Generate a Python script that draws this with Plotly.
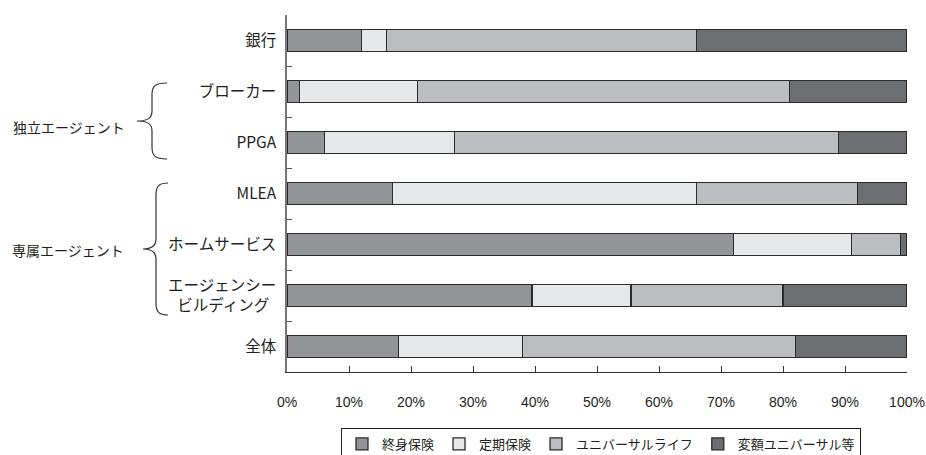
import plotly.graph_objects as go

categories = ["銀行", "ブローカー", "PPGA", "MLEA", "ホームサービス",
              "エージェンシー<br>ビルディング&nbsp;&nbsp;", "全体"]
series_names = ["終身保険", "定期保険", "ユニバーサルライフ", "変額ユニバーサル等"]
whole_life = [12, 2, 6, 17, 72, 39.5, 18]
term_life = [4, 19, 21, 49, 19, 16, 20]
universal_life = [50, 60, 62, 26, 8, 24.5, 44]
variable_ul = [34, 19, 11, 8, 1, 20, 18]
x_ticks = [0, 10, 20, 30, 40, 50, 60, 70, 80, 90, 100]
x_tick_labels = [f"{v}%" for v in x_ticks]

colors = ["#939497", "#e6e7e8", "#bcbdc0", "#6d6e71"]
series = [whole_life, term_life, universal_life, variable_ul]

W, H = 926, 455
L, R, T, B = 287, 907, 15, 372
JP = "Noto Sans CJK JP, Noto Sans, sans-serif"
TXT = "#231f20"

fig = go.Figure()
for name, vals, col in zip(series_names, series, colors):
    fig.add_trace(go.Bar(
        y=categories, x=vals, name=name, orientation="h",
        marker=dict(color=col, line=dict(color="#2b2b2b", width=1.3)),
    ))


def px2paper(px, py):
    return (px - L) / (R - L), (B - py) / (B - T)


def brace(xtip, xv, xend, ytop, ybot, ytip):
    pts = [
        ("M", [(xend, ytop)]),
        ("C", [(xv + 3, ytop), (xv, ytop + 3), (xv, ytop + 12)]),
        ("L", [(xv, ytip - 10)]),
        ("C", [(xv, ytip - 3), (xv - 4, ytip), (xtip, ytip)]),
        ("C", [(xv - 4, ytip), (xv, ytip + 3), (xv, ytip + 10)]),
        ("L", [(xv, ybot - 12)]),
        ("C", [(xv, ybot - 3), (xv + 3, ybot), (xend, ybot)]),
    ]
    s = ""
    for cmd, plist in pts:
        s += cmd + " " + " ".join(
            "{:.5f},{:.5f}".format(*px2paper(a, b)) for a, b in plist) + " "
    return s.strip()


shapes = [
    dict(type="path", xref="paper", yref="paper",
         path=brace(137, 152, 167, 83, 159, 121),
         line=dict(color="#333333", width=1.2)),
    dict(type="path", xref="paper", yref="paper",
         path=brace(143, 156, 168, 183, 315, 249),
         line=dict(color="#333333", width=1.2)),
]

annotations = []
for label, px, py in [("独立エージェント", 127, 127), ("専属エージェント", 126, 250)]:
    ax, ay = px2paper(px, py)
    annotations.append(dict(text=label, x=ax, y=ay, xref="paper", yref="paper",
                            xanchor="right", yanchor="middle", showarrow=False,
                            font=dict(family=JP, size=14, color=TXT)))

lx, ly = px2paper(601, 428)

fig.update_layout(
    width=W, height=H,
    margin=dict(l=L, r=W - R, t=T, b=H - B, pad=0, autoexpand=False),
    barmode="stack", bargap=0.57,
    plot_bgcolor="white", paper_bgcolor="white",
    font=dict(family=JP, color=TXT),
    shapes=shapes, annotations=annotations,
    legend=dict(orientation="h", x=lx, y=ly, xanchor="center", yanchor="top",
                traceorder="normal", bordercolor="#231f20", borderwidth=1,
                font=dict(family=JP, size=13, color=TXT),
                itemwidth=30, tracegroupgap=0),
    showlegend=True,
)
fig.update_xaxes(range=[0, 100], tickvals=x_ticks, ticktext=x_tick_labels,
                 ticks="inside", ticklen=6, tickcolor="#333", showgrid=False,
                 showline=True, linecolor="#333", linewidth=1, zeroline=False,
                 tickfont=dict(family="Liberation Sans, Arial, sans-serif", size=14, color=TXT),
                 ticklabelstandoff=17, fixedrange=True, automargin=False)
fig.update_yaxes(categoryorder="array", categoryarray=categories,
                 autorange="reversed", tickson="boundaries",
                 ticks="inside", ticklen=5, tickcolor="#555", showgrid=False,
                 showline=True, linecolor="#777", linewidth=1.5,
                 tickfont=dict(family=JP, size=15.5, color=TXT),
                 ticklabelstandoff=6, fixedrange=True, automargin=False)

fig.write_html("out.html")
